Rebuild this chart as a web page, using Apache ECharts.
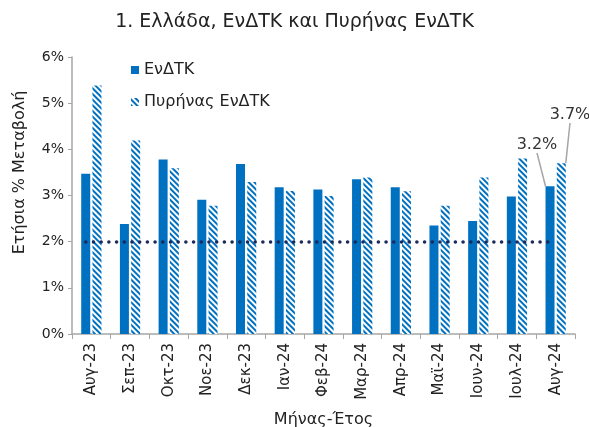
<!DOCTYPE html>
<html>
<head>
<meta charset="utf-8">
<script src="https://cdn.jsdelivr.net/npm/echarts@6/dist/echarts.min.js"></script>
<style>
  html, body { margin: 0; padding: 0; background: #fff; }
  #chart { width: 589px; height: 427px; }
</style>
</head>
<body>
<div id="chart"></div>
<script>
// μήνες
const categories = ['Αυγ-23', 'Σεπ-23', 'Οκτ-23', 'Νοε-23', 'Δεκ-23', 'Ιαν-24', 'Φεβ-24',
  'Μαρ-24', 'Απρ-24', 'Μαϊ-24', 'Ιουν-24', 'Ιουλ-24', 'Αυγ-24'];
// ΕνΔΤΚ
const hicp = [3.47, 2.38, 3.78, 2.91, 3.68, 3.18, 3.13, 3.35, 3.18, 2.35, 2.45, 2.98, 3.2];
// Πυρήνας ΕνΔΤΚ
const core = [5.38, 4.19, 3.59, 2.78, 3.29, 3.1, 2.99, 3.39, 3.09, 2.78, 3.39, 3.8, 3.7];
const target = 2;
const yTicks = [0, 1, 2, 3, 4, 5, 6];

const blue = '#0070c0';
const font = '"DejaVu Sans", "Noto Sans", sans-serif';
const last = categories.length - 1;

let chart = echarts.init(document.getElementById('chart'));
chart.setOption({
  animation: false,
  title: {
    text: '1. Ελλάδα, ΕνΔΤΚ και Πυρήνας ΕνΔΤΚ',
    left: 'center',
    top: 8,
    textStyle: { fontFamily: font, fontSize: 19, fontWeight: 'normal', color: '#222' }
  },
  legend: {
    orient: 'vertical',
    left: 126,
    top: 57,
    itemGap: 16,
    itemWidth: 8,
    itemHeight: 8,
    icon: 'rect',
    textStyle: { fontFamily: font, fontSize: 16, color: '#222' },
    data: ['ΕνΔΤΚ', 'Πυρήνας ΕνΔΤΚ']
  },
  grid: { left: 72, right: 14, top: 57, bottom: 93, outerBoundsMode: 'none' },
  xAxis: {
    type: 'category',
    data: categories,
    name: 'Μήνας-Έτος',
    nameLocation: 'middle',
    nameGap: 78,
    nameTextStyle: { fontFamily: font, fontSize: 16, color: '#222' },
    axisLine: { lineStyle: { color: '#a6a6a6', width: 1.5 } },
    axisTick: { show: true, length: 5, lineStyle: { color: '#a6a6a6' } },
    axisLabel: { rotate: 90, fontFamily: font, fontSize: 15, color: '#222', margin: 9 }
  },
  yAxis: {
    type: 'value',
    min: yTicks[0],
    max: yTicks[yTicks.length - 1],
    interval: 1,
    name: 'Ετήσια % Μεταβολή',
    nameLocation: 'middle',
    nameGap: 44,
    nameTextStyle: { fontFamily: font, fontSize: 16, color: '#222', padding: [0, 0, 0, 46] },
    axisLine: { show: true, lineStyle: { color: '#a6a6a6', width: 1.5 } },
    axisTick: { show: true, inside: false, length: 4, lineStyle: { color: '#a6a6a6' } },
    splitLine: { show: false },
    axisLabel: { fontFamily: font, fontSize: 14, color: '#222', formatter: '{value}%' }
  },
  series: [
    {
      name: 'ΕνΔΤΚ',
      type: 'bar',
      barWidth: 9,
      barGap: '25%',
      itemStyle: { color: blue },
      data: hicp.map((v, i) => i === last ? {
        value: v,
        label: { show: true, formatter: '3.2%' },
        labelLine: { show: true }
      } : v),
      label: { show: false, fontFamily: font, fontSize: 16, color: '#333' },
      labelLine: { lineStyle: { color: '#a6a6a6', width: 1.5 } },
      labelLayout: function (p) {
        if (p.dataIndex !== last) return {};
        return { x: 537, y: 145, align: 'center', verticalAlign: 'middle' };
      },
      markLine: {
        silent: true,
        symbol: 'none',
        label: { show: false },
        lineStyle: { color: '#1b2a5a', type: [0.1, 7.6], width: 3.5, cap: 'round' },
        data: [[{ coord: [0, target] }, { coord: [last, target] }]]
      }
    },
    {
      name: 'Πυρήνας ΕνΔΤΚ',
      type: 'bar',
      barWidth: 9,
      itemStyle: {
        color: '#ffffff',
        decal: {
          symbol: 'rect',
          symbolSize: 1,
          color: blue,
          dashArrayX: [1, 0],
          dashArrayY: [2, 1.5],
          rotation: Math.PI / 4
        }
      },
      data: core.map((v, i) => i === last ? {
        value: v,
        label: { show: true, formatter: '3.7%' },
        labelLine: { show: true }
      } : v),
      label: { show: false, fontFamily: font, fontSize: 16, color: '#333' },
      labelLine: { lineStyle: { color: '#a6a6a6', width: 1.5 } },
      labelLayout: function (p) {
        if (p.dataIndex !== last) return {};
        return { x: 570, y: 115, align: 'center', verticalAlign: 'middle' };
      }
    }
  ]
});
</script>
</body>
</html>
